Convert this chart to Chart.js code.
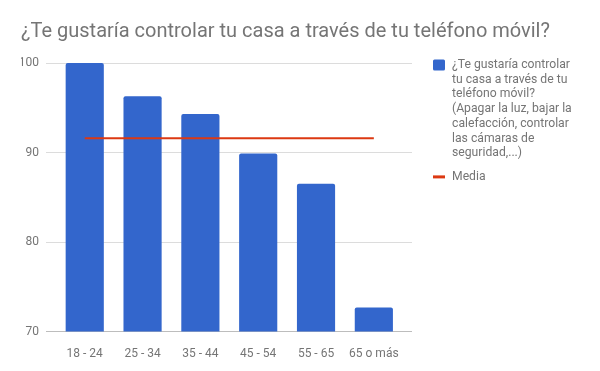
<html>

<head>
  <title>Chart</title>
  <style>
    body {
      margin: 0;
      background: #fff;
    }

    #wrap {
      width: 600px;
      height: 371px;
    }
  </style>
</head>

<body>
  <div id="wrap"><canvas id="myChart" width="600" height="371"></canvas></div>
  <script src="https://cdn.jsdelivr.net/npm/chart.js"></script>
  <script>
    var categories = ['18 - 24', '25 - 34', '35 - 44', '45 - 54', '55 - 65', '65 o más'];
    var respuestas = [100, 96.3, 94.3, 89.9, 86.5, 72.7];
    var media = [91.6, 91.6, 91.6, 91.6, 91.6, 91.6];
    var yTicks = [70, 80, 90, 100];

    var seriesName = ['¿Te gustaría controlar', 'tu casa a través de tu', 'teléfono móvil?',
      '(Apagar la luz, bajar la', 'calefacción, controlar', 'las cámaras de', 'seguridad,...)'];

    var grey = '#757575';
    Chart.defaults.font.family = 'Roboto, sans-serif';
    Chart.defaults.color = grey;

    // legend drawn by hand so the wrapped label sits like the original
    var sideLegend = {
      id: 'sideLegend',
      afterDraw: function (chart) {
        var ctx = chart.ctx;
        var x = chart.chartArea.right + 21;
        var y = 65;
        var lh = 14.7;
        ctx.save();
        ctx.font = '12.2px Roboto, sans-serif';
        ctx.textBaseline = 'middle';
        ctx.textAlign = 'left';
        chart.data.datasets.forEach(function (ds) {
          var lines = Array.isArray(ds.label) ? ds.label : [ds.label];
          if (ds.type === 'line') {
            ctx.strokeStyle = ds.borderColor;
            ctx.lineWidth = 3;
            ctx.beginPath();
            ctx.moveTo(x, y);
            ctx.lineTo(x + 12, y);
            ctx.stroke();
          } else {
            ctx.fillStyle = ds.backgroundColor;
            ctx.beginPath();
            ctx.roundRect(x, y - 5.5, 12, 11, 1.5);
            ctx.fill();
          }
          ctx.fillStyle = grey;
          lines.forEach(function (t, i) {
            ctx.fillText(t, x + 19, y + i * lh);
          });
          y += lines.length * lh + 9;
        });
        ctx.restore();
      }
    };

    var data = {
      datasets: [{
        type: 'bar',
        label: seriesName,
        data: respuestas.map((v, i) => ({ x: i, y: v })),
        backgroundColor: '#3366cc',
        borderRadius: { topLeft: 2, topRight: 2 },
        borderSkipped: 'bottom',
        barPercentage: 0.66,
        categoryPercentage: 1,
        order: 2
      }, {
        type: 'line',
        label: 'Media',
        data: media.map((v, i) => ({ x: i, y: v })),
        borderColor: '#dc3912',
        backgroundColor: '#dc3912',
        borderWidth: 2,
        pointRadius: 0,
        order: 1
      }]
    };

    var config = {
      data: data,
      plugins: [sideLegend],
      options: {
        responsive: false,
        animation: false,
        layout: { padding: { left: 21, right: 0, top: 0, bottom: 3 } },
        scales: {
          x: {
            type: 'linear',
            offset: false,
            min: -0.67,
            max: 5.66,
            grid: { display: false },
            border: { display: false },
            afterBuildTicks: function (scale) {
              scale.ticks = categories.map((_, i) => ({ value: i }));
            },
            ticks: {
              font: { size: 12 },
              padding: 7,
              autoSkip: false,
              maxRotation: 0,
              callback: function (value) { return categories[value]; }
            }
          },
          y: {
            min: 70,
            max: 100,
            afterBuildTicks: function (scale) {
              scale.ticks = yTicks.map(v => ({ value: v }));
            },
            afterFit: function (scale) { scale.width = 25; },
            border: { display: false },
            grid: {
              drawTicks: false,
              color: function (ctx) { return ctx.tick && ctx.tick.value === 70 ? '#bdbdbd' : '#dcdcdc'; }
            },
            ticks: { font: { size: 12 }, padding: 7 }
          },
          // empty axis on the right only reserves room for the legend
          side: {
            position: 'right',
            min: 70,
            max: 100,
            grid: { display: false },
            border: { display: false },
            ticks: { display: false },
            afterFit: function (scale) { scale.width = 188; }
          }
        },
        plugins: {
          title: {
            display: true,
            text: '¿Te gustaría controlar tu casa a través de tu teléfono móvil?',
            align: 'start',
            color: grey,
            font: { size: 20, weight: 'normal' },
            padding: { top: 20, bottom: 19 }
          },
          legend: { display: false },
          tooltip: { enabled: false }
        }
      }
    };

    var myChart = new Chart(document.getElementById('myChart'), config);
  </script>
</body>

</html>
